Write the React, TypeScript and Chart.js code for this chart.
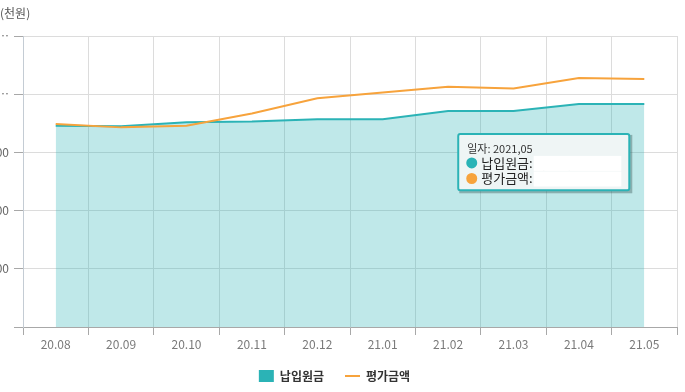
import React, { useEffect, useRef } from "react";
import { Chart, registerables, Tooltip } from "chart.js";

Chart.register(...registerables);

const categories = ["20.08", "20.09", "20.10", "20.11", "20.12", "21.01", "21.02", "21.03", "21.04", "21.05"];
const principal = [3460, 3450, 3520, 3530, 3570, 3570, 3710, 3710, 3830, 3830];
const evaluation = [3490, 3430, 3460, 3670, 3930, 4030, 4130, 4100, 4280, 4260];
const yTickValues = [0, 1000, 2000, 3000, 4000, 5000];
const yTickLabels = ["", "1,000", "2,000", "3,000", "4,00…", "5,00…"];
const seriesNames = ["납입원금", "평가금액"];
const unitLabel = "(천원)";
const tooltipIndex = 9;

const TEAL = "#2bb3b6";
const ORANGE = "#f7a33c";
const FONT = "'Noto Sans CJK KR', 'Noto Sans', sans-serif";

const TT_PAD = { top: 8, bottom: 4, left: 9, right: 24 };
const TT_TITLE_SIZE = 11;
const TT_BODY_SIZE = 13;
const TT_BOX = 9;
const TT_BOX_PAD = 3;

(Tooltip as any).positioners.leftOfPoint = function (items: any[]) {
  if (!items || !items.length) return false;
  const el = items[0].element;
  return { x: el.x - 15, y: el.y + 58, xAlign: "right", yAlign: "center" };
};

const tooltipDecor = {
  id: "tooltipDecor",
  afterLayout(chart: any) {
    if (chart.legend) {
      chart.legend.left -= 4;
      chart.legend.right -= 4;
    }
  },
  beforeTooltipDraw(chart: any, args: any) {
    const tt = args.tooltip;
    const ctx = chart.ctx;
    ctx.save();
    ctx.fillStyle = "rgba(40,70,70,0.35)";
    ctx.fillRect(tt.x + 1, tt.y + 1, tt.width + 2, tt.height + 2);
    ctx.restore();
  },
  afterTooltipDraw(chart: any, args: any) {
    const tt = args.tooltip;
    const ctx = chart.ctx;
    ctx.save();
    ctx.font = `${TT_BODY_SIZE}px ${FONT}`;
    const titleLH = TT_TITLE_SIZE * 1.2;
    const bodyLH = TT_BODY_SIZE * 1.2;
    const textX = tt.x + TT_PAD.left + TT_BOX + 2 + TT_BOX_PAD;
    const endX = tt.x + tt.width - 8;
    (tt.body || []).forEach((b: any, i: number) => {
      const line: string = b.lines[0] || "";
      const cut = line.indexOf(":") + 1;
      const prefixW = ctx.measureText(line.slice(0, cut)).width;
      const cy = tt.y + TT_PAD.top + titleLH + i * bodyLH + bodyLH / 2;
      const x0 = textX + prefixW + 1;
      ctx.fillStyle = "#ffffff";
      ctx.fillRect(x0, cy - 7, endX - x0, 15);
    });
    ctx.restore();
  },
};

export default function App() {
  const canvasRef = useRef<HTMLCanvasElement | null>(null);

  useEffect(() => {
    if (!canvasRef.current) return;
    const chart = new Chart(canvasRef.current, {
      type: "line",
      data: {
        labels: categories,
        datasets: [
          {
            label: seriesNames[0],
            data: principal,
            borderColor: TEAL,
            backgroundColor: "rgba(43,179,182,0.3)",
            fill: "origin",
            borderWidth: 2,
            pointRadius: 0,
            pointHoverRadius: 0,
            tension: 0,
            order: 1,
          },
          {
            label: seriesNames[1],
            data: evaluation,
            borderColor: ORANGE,
            backgroundColor: ORANGE,
            fill: false,
            borderWidth: 2,
            pointRadius: 0,
            pointHoverRadius: 0,
            tension: 0,
            order: 0,
          },
        ],
      },
      options: {
        responsive: false,
        animation: false,
        events: [],
        layout: { padding: { top: 36, right: 8, left: 0, bottom: 0 } },
        interaction: { mode: "index", intersect: false },
        scales: {
          x: {
            offset: true,
            afterFit: (s: any) => {
              s.height = 22;
            },
            grid: { color: "#dcdcdc", tickColor: "#a8a8a8", tickLength: 8, offset: true },
            border: { color: "#a8a8a8" },
            ticks: {
              color: "#7a7a7a",
              font: { family: FONT, size: 12 },
              padding: 2,
              maxRotation: 0,
              autoSkip: false,
            },
          },
          y: {
            min: 0,
            max: 5000,
            afterFit: (s: any) => {
              s.width = 23;
            },
            afterBuildTicks: (s: any) => {
              s.ticks = yTickValues.map((v) => ({ value: v }));
            },
            grid: { color: "#dcdcdc", tickColor: "#a8a8a8", tickLength: 9 },
            border: { color: "#c4ccd4" },
            ticks: {
              color: "#666",
              font: { family: FONT, size: 12 },
              padding: 5,
              callback: (v: any) => {
                const i = yTickValues.indexOf(Number(v));
                return i >= 0 ? yTickLabels[i] : "";
              },
            },
          },
        },
        plugins: {
          legend: {
            position: "bottom",
            labels: {
              usePointStyle: true,
              pointStyleWidth: 15,
              padding: 21,
              font: { family: FONT, size: 12, weight: "bold" },
              color: "#333",
              generateLabels: (c: any) =>
                c.data.datasets.map((ds: any, i: number) => ({
                  text: ds.label,
                  fillStyle: i === 0 ? TEAL : ORANGE,
                  strokeStyle: i === 0 ? TEAL : ORANGE,
                  lineWidth: i === 0 ? 0 : 2,
                  pointStyle: i === 0 ? "rect" : "line",
                  hidden: false,
                  datasetIndex: i,
                  fontColor: "#333",
                })),
            },
          },
          tooltip: {
            enabled: true,
            position: "leftOfPoint" as any,
            backgroundColor: "#eff5f5",
            borderColor: TEAL,
            borderWidth: 2,
            cornerRadius: 2,
            caretSize: 0,
            caretPadding: 0,
            padding: TT_PAD,
            titleColor: "#333",
            titleFont: { family: FONT, size: TT_TITLE_SIZE, weight: "normal" },
            titleMarginBottom: 0,
            bodyColor: "#222",
            bodyFont: { family: FONT, size: TT_BODY_SIZE },
            bodySpacing: 0,
            usePointStyle: true,
            boxWidth: TT_BOX,
            boxHeight: TT_BOX,
            boxPadding: TT_BOX_PAD,
            multiKeyBackground: "rgba(0,0,0,0)",
            callbacks: {
              title: (items: any[]) => `일자: 20${String(items[0].label).replace(".", ",")}`,
              label: (ctx: any) =>
                `${ctx.dataset.label}: ${(ctx.parsed.y * 1000).toLocaleString("ko-KR")}원`,
              labelColor: (ctx: any) => {
                const col = ctx.datasetIndex === 0 ? TEAL : ORANGE;
                return { borderColor: col, backgroundColor: col };
              },
              labelPointStyle: () => ({ pointStyle: "circle", rotation: 0 }),
            },
          },
        },
      },
      plugins: [tooltipDecor],
    } as any);

    chart.tooltip!.setActiveElements(
      [
        { datasetIndex: 0, index: tooltipIndex },
        { datasetIndex: 1, index: tooltipIndex },
      ],
      { x: 0, y: 0 }
    );
    chart.update();

    return () => chart.destroy();
  }, []);

  return (
    <div style={{ position: "absolute", left: 0, top: 0, width: 685, height: 392, background: "#fff" }}>
      <canvas ref={canvasRef} width={685} height={392} style={{ display: "block", width: 685, height: 392 }} />
      <span
        style={{
          position: "absolute",
          left: 0,
          top: 4,
          fontFamily: FONT,
          fontSize: 12,
          color: "#555",
          lineHeight: "17px",
        }}
      >
        {unitLabel}
      </span>
    </div>
  );
}
